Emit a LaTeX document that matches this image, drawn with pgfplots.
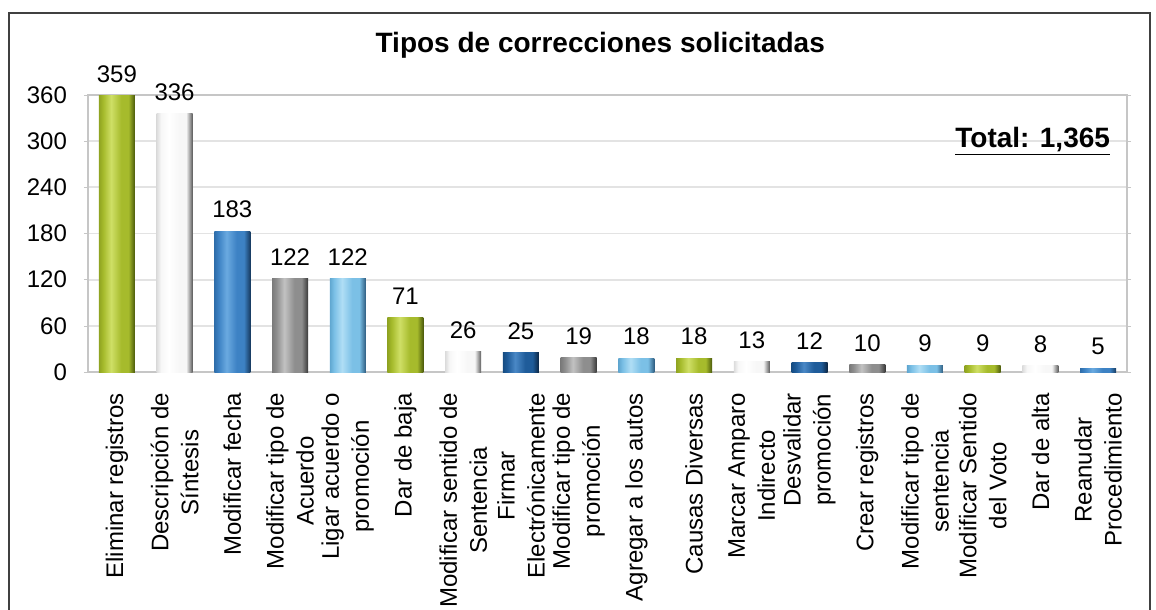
\documentclass[border=0pt]{standalone}
\usepackage{fontspec}
\setmainfont{Liberation Sans}
\usepackage{pgfplots}
\pgfplotsset{compat=1.18}

% bar colours: edge, body, highlight, shadow
\definecolor{grnE}{HTML}{8FA321}
\definecolor{grnA}{HTML}{A6BB2C}
\definecolor{grnB}{HTML}{CFDF66}
\definecolor{grnC}{HTML}{4A590B}
\definecolor{whtE}{HTML}{DCDCDC}
\definecolor{whtA}{HTML}{F7F7F7}
\definecolor{whtB}{HTML}{FFFFFF}
\definecolor{whtC}{HTML}{5A5A5A}
\definecolor{bluE}{HTML}{2E6DAA}
\definecolor{bluA}{HTML}{3D82C4}
\definecolor{bluB}{HTML}{6AAAE0}
\definecolor{bluC}{HTML}{173B60}
\definecolor{dblE}{HTML}{164C82}
\definecolor{dblA}{HTML}{1F5C9A}
\definecolor{dblB}{HTML}{4A88C6}
\definecolor{dblC}{HTML}{0B2542}
\definecolor{gryE}{HTML}{7A7A7A}
\definecolor{gryA}{HTML}{8E8E8E}
\definecolor{gryB}{HTML}{C2C2C2}
\definecolor{gryC}{HTML}{3A3A3A}
\definecolor{lblE}{HTML}{5FA6D0}
\definecolor{lblA}{HTML}{7BC0E6}
\definecolor{lblB}{HTML}{B0DEF5}
\definecolor{lblC}{HTML}{2E5C80}

% cylinder-like horizontal shading; the path spans 25bp..75bp
\newcommand\barshade[5]{%
  \pgfdeclarehorizontalshading{#1}{100bp}{color(0bp)=(#2); color(25bp)=(#2);
    color(31bp)=(#3); color(42bp)=(#4); color(56bp)=(#3); color(66bp)=(#3);
    color(75bp)=(#5); color(100bp)=(#5)}}
\barshade{grnS}{grnE}{grnA}{grnB}{grnC}
\barshade{whtS}{whtE}{whtA}{whtB}{whtC}
\barshade{bluS}{bluE}{bluA}{bluB}{bluC}
\barshade{dblS}{dblE}{dblA}{dblB}{dblC}
\barshade{gryS}{gryE}{gryA}{gryB}{gryC}
\barshade{lblS}{lblE}{lblA}{lblB}{lblC}

\pgfplotsset{
  grn/.style={bar shift=0pt, draw=none, shading=grnS},
  wht/.style={bar shift=0pt, draw=none, shading=whtS},
  blu/.style={bar shift=0pt, draw=none, shading=bluS},
  dbl/.style={bar shift=0pt, draw=none, shading=dblS},
  gry/.style={bar shift=0pt, draw=none, shading=gryS},
  lbl/.style={bar shift=0pt, draw=none, shading=lblS},
}

\begin{document}
\begin{tikzpicture}
\useasboundingbox (-44pt,-119pt) rectangle (534pt,186pt);
\draw[line width=1pt, black!75] (-39.5pt,-140pt) -- (-39.5pt,179.5pt) -- (531pt,179.5pt) -- (531pt,-140pt);
\begin{axis}[
  scale only axis,
  width=519.5pt, height=138.5pt,
  clip=false,
  xmin=-0.5, xmax=17.5,
  ymin=0, ymax=360,
  ytick={0,60,...,360},
  xtick={0,...,17},
  xticklabels={{Eliminar registros},{Descripción de\\Síntesis},{Modificar fecha},{Modificar tipo de\\Acuerdo},{Ligar acuerdo o\\promoción},{Dar de baja},{Modificar sentido de\\Sentencia},{Firmar\\Electrónicamente},{Modificar tipo de\\promoción},{Agregar a los autos},{Causas Diversas},{Marcar Amparo\\Indirecto},{Desvalidar\\promoción},{Crear registros},{Modificar tipo de\\sentencia},{Modificar Sentido\\del Voto},{Dar de alta},{Reanudar\\Procedimiento}},
  ybar, bar width=18pt, bar shift=0pt,
  ymajorgrids,
  grid style={gray!22, line width=0.9pt},
  axis line style={gray!45, line width=0.6pt},
  xtick style={draw=none},
  ytick style={gray!45},
  tick align=outside,
  major tick length=2pt,
  /pgf/number format/assume math mode=true,
  yticklabel style={font=\fontsize{12}{14}\selectfont, xshift=-5pt},
  xticklabel style={font=\fontsize{12}{15}\selectfont, align=center, yshift=-5pt, rotate=90, anchor=east},
  nodes near coords,
  every node near coord/.append style={font=\fontsize{12}{14}\selectfont, black, yshift=3pt},
]
\addplot[grn] coordinates {(0,359)};
\addplot[wht] coordinates {(1,336)};
\addplot[blu] coordinates {(2,183)};
\addplot[gry] coordinates {(3,122)};
\addplot[lbl] coordinates {(4,122)};
\addplot[grn] coordinates {(5,71)};
\addplot[wht] coordinates {(6,26)};
\addplot[dbl] coordinates {(7,25)};
\addplot[gry] coordinates {(8,19)};
\addplot[lbl] coordinates {(9,18)};
\addplot[grn] coordinates {(10,18)};
\addplot[wht] coordinates {(11,13)};
\addplot[dbl] coordinates {(12,12)};
\addplot[gry] coordinates {(13,10)};
\addplot[lbl] coordinates {(14,9)};
\addplot[grn] coordinates {(15,9)};
\addplot[wht] coordinates {(16,8)};
\addplot[blu] coordinates {(17,5)};
\node[font=\bfseries\fontsize{14}{17}\selectfont, anchor=base] at (rel axis cs:0.493,1.152) {Tipos de correcciones solicitadas};
\node[font=\bfseries\fontsize{14}{17}\selectfont, anchor=base east, inner sep=0pt] at (rel axis cs:0.984,0.812) {\underline{Total: 1,365}};
\end{axis}
\end{tikzpicture}
\end{document}
